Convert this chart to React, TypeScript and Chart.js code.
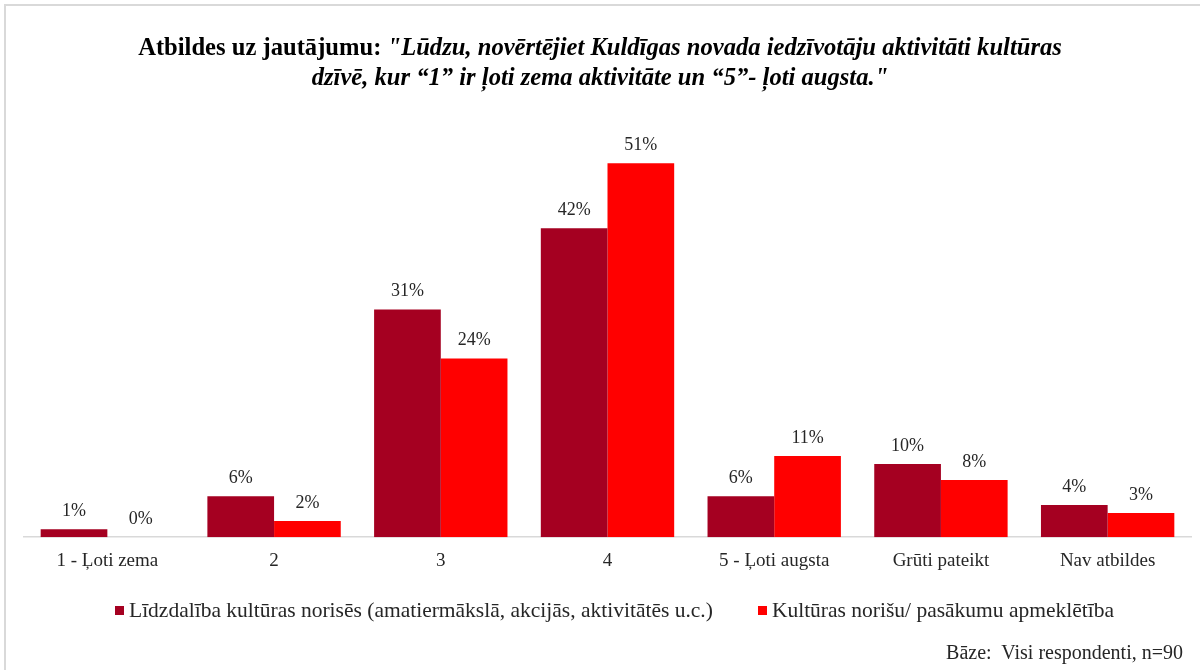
import React, { useEffect, useRef } from "react";
import { Chart, registerables } from "chart.js";

Chart.register(...registerables);

const categories = [
  "1 - Ļoti zema",
  "2",
  "3",
  "4",
  "5 - Ļoti augsta",
  "Grūti pateikt",
  "Nav atbildes",
];
const seriesNames = [
  "Līdzdalība kultūras norisēs (amatiermākslā, akcijās, aktivitātēs u.c.)",
  "Kultūras norišu/ pasākumu apmeklētība",
];
const participation = [1.1, 5.6, 31.1, 42.2, 5.6, 10.0, 4.4];
const attendance = [0, 2.2, 24.4, 51.1, 11.1, 7.8, 3.3];
const colors = ["#A50021", "#FF0000"];

const SERIF = "'Liberation Serif', 'Times New Roman', serif";
const TEXT = "#262626";

const labelPlugin = {
  id: "valueLabels",
  afterDatasetsDraw(chart: any) {
    const ctx = chart.ctx;
    ctx.save();
    ctx.font = `18px ${SERIF}`;
    ctx.fillStyle = TEXT;
    ctx.textAlign = "center";
    ctx.textBaseline = "bottom";
    chart.data.datasets.forEach((ds: any, i: number) => {
      const meta = chart.getDatasetMeta(i);
      meta.data.forEach((el: any, j: number) => {
        const v = ds.data[j];
        ctx.fillText(Math.round(v) + "%", el.x, el.y - 9);
      });
    });
    ctx.restore();
  },
};

export default function App() {
  const ref = useRef<HTMLCanvasElement>(null);
  useEffect(() => {
    if (!ref.current) return;
    const chart = new Chart(ref.current, {
      type: "bar",
      data: {
        labels: categories,
        datasets: [
          {
            label: seriesNames[0],
            data: participation,
            backgroundColor: colors[0],
            categoryPercentage: 0.8,
            barPercentage: 1.0,
          },
          {
            label: seriesNames[1],
            data: attendance,
            backgroundColor: colors[1],
            categoryPercentage: 0.8,
            barPercentage: 1.0,
          },
        ],
      },
      options: {
        animation: false,
        responsive: false,
        maintainAspectRatio: false,
        layout: { padding: { top: 98, left: 24, right: 9, bottom: 94 } },
        scales: {
          x: {
            grid: { display: false },
            border: { display: true, color: "#D9D9D9", width: 1.5 },
            ticks: {
              color: TEXT,
              font: { family: SERIF, size: 19 },
              padding: 4,
              maxRotation: 0,
            },
          },
          y: {
            display: false,
            min: 0,
            max: 60,
          },
        },
        plugins: {
          legend: { display: false },
          tooltip: { enabled: false },
        },
      },
      plugins: [labelPlugin],
    });
    return () => chart.destroy();
  }, []);

  return (
    <div
      style={{
        position: "fixed",
        left: 0,
        top: 0,
        width: 1200,
        height: 670,
        background: "#fff",
        overflow: "hidden",
      }}
    >
      <div
        style={{
          position: "absolute",
          left: 4,
          top: 4,
          width: 1300,
          height: 800,
          borderLeft: "2px solid #D9D9D9",
          borderTop: "2px solid #D9D9D9",
        }}
      />
      <canvas
        ref={ref}
        width={1200}
        height={670}
        style={{ position: "absolute", left: 0, top: 0 }}
      />
      <div
        style={{
          position: "absolute",
          left: 0,
          width: 1200,
          top: 32,
          textAlign: "center",
          fontFamily: SERIF,
          fontWeight: "bold",
          fontSize: 24.6,
          lineHeight: "30px",
          color: "#000",
        }}
      >
        <div>
          Atbildes uz jautājumu:{" "}
          <i>"Lūdzu, novērtējiet Kuldīgas novada iedzīvotāju aktivitāti kultūras</i>
        </div>
        <div>
          <i>dzīvē, kur “1” ir ļoti zema aktivitāte un “5”- ļoti augsta."</i>
        </div>
      </div>
      <div
        style={{
          position: "absolute",
          left: 115,
          top: 598,
          display: "flex",
          alignItems: "center",
          gap: 45,
          fontFamily: SERIF,
          fontSize: 21.5,
          lineHeight: "24px",
          color: TEXT,
          whiteSpace: "nowrap",
        }}
      >
        {seriesNames.map((name, i) => (
          <div key={name} style={{ display: "flex", alignItems: "center" }}>
            <span
              style={{
                display: "inline-block",
                width: 9,
                height: 9,
                background: colors[i],
                marginRight: 5,
              }}
            />
            <span>{name}</span>
          </div>
        ))}
      </div>
      <div
        style={{
          position: "absolute",
          right: 17,
          top: 640,
          fontFamily: SERIF,
          fontSize: 20,
          lineHeight: "24px",
          color: TEXT,
          whiteSpace: "pre",
        }}
      >
        {"Bāze:  Visi respondenti, n=90"}
      </div>
    </div>
  );
}
